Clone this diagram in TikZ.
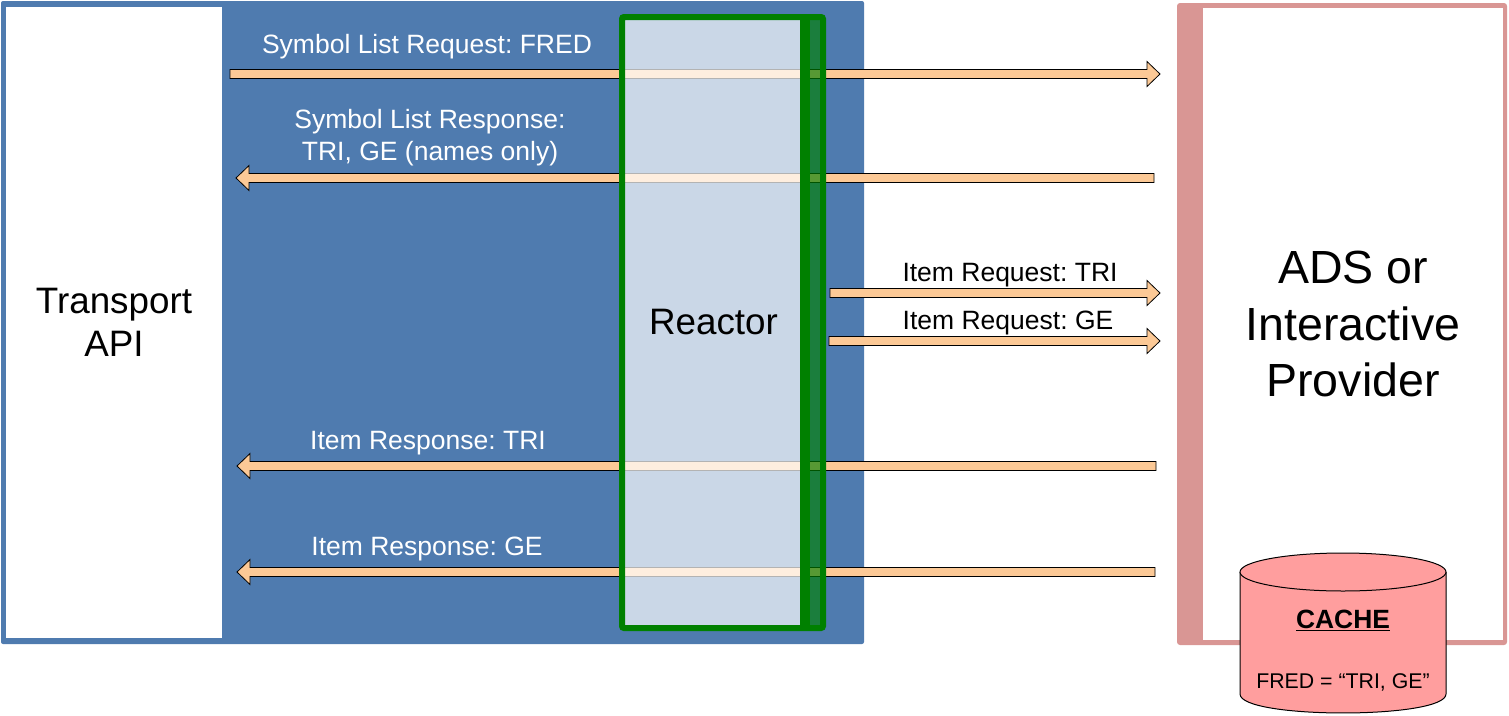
\documentclass[tikz,border=0pt]{standalone}
\usepackage{fontspec}
\setmainfont{Liberation Sans}
\usetikzlibrary{calc}
\frenchspacing
\definecolor{apiblue}{RGB}{79,123,175}
\definecolor{provpink}{RGB}{217,150,148}
\definecolor{cachepink}{RGB}{255,158,158}
\definecolor{arroworange}{RGB}{252,201,150}
\definecolor{reactgreen}{RGB}{0,128,0}
\tikzstyle{msg} = [font=\fontsize{26.5}{32}\selectfont, inner sep=0pt, anchor=base]
\tikzstyle{msgw} = [msg, text=white]
\tikzstyle{whitebox} = [rectangle, fill=white, inner sep=0pt, align=center]
\tikzstyle{big} = [font=\fontsize{36.8}{43.5}\selectfont]
\tikzstyle{blockarrow} = [draw=black, line width=0.8pt, fill=arroworange]
\newcommand{\blockarrow}[2]{%
	\path[blockarrow] let \p1=(#1), \p2=(#2), \n1={(\x2-\x1)/abs(\x2-\x1)*13} in
		(\x1,{\y1+4.5pt}) -- ({\x2-(\n1)},{\y1+4.5pt}) -- ({\x2-(\n1)},{\y1+12.5pt}) -- (\x2,\y1)
		-- ({\x2-(\n1)},{\y1-12.5pt}) -- ({\x2-(\n1)},{\y1-4.5pt}) -- (\x1,{\y1-4.5pt}) -- cycle;}

\begin{document}
\begin{tikzpicture}[x=1pt, y=-1pt]
					\useasboundingbox (0,0) rectangle (1509,715);
					\fill [apiblue, rounded corners=2pt] (1,1) rectangle (864,644);
					\node (api) [whitebox, big, minimum width=216, minimum height=631] at (114,322.5) {Transport\\API};
					\fill [provpink, rounded corners=3pt] (1177,3) rectangle (1507,645);
					\node (provider) [whitebox, font=\fontsize{46.5}{56.5}\selectfont, minimum width=300, minimum height=632] at (1353,324) {ADS or\\Interactive\\Provider};
					\coordinate (sreq1) at (230,74);
					\coordinate (sreq2) at (1160,74);
					\coordinate (sres1) at (1154,178);
					\coordinate (sres2) at (236,178);
					\coordinate (ireqt1) at (830,293);
					\coordinate (ireqt2) at (1160,293);
					\coordinate (ireqg1) at (829,341);
					\coordinate (ireqg2) at (1160,341);
					\coordinate (irest1) at (1156,466);
					\coordinate (irest2) at (237,466);
					\coordinate (iresg1) at (1155,572);
					\coordinate (iresg2) at (237,572);
					\blockarrow{sreq1}{sreq2}
					\blockarrow{sres1}{sres2}
					\blockarrow{ireqt1}{ireqt2}
					\blockarrow{ireqg1}{ireqg2}
					\blockarrow{irest1}{irest2}
					\blockarrow{iresg1}{iresg2}
					\node (reactor) [whitebox, big, fill opacity=.7, text opacity=1, minimum width=183, minimum height=611] at (713.5,322.5) {Reactor};
					\fill [reactgreen, opacity=.65] (805,17) rectangle (823,628);
					\draw [reactgreen, line width=10pt] (805,17) -- (805,628);
					\draw [reactgreen, line width=6pt, rounded corners=2pt] (622,17) rectangle (823,628);
					\node (symreq) [msgw] at (427,53.5) {Symbol List Request: FRED};
					\node (symres) [msgw, align=center, anchor=center] at (430,138) {Symbol List Response:\\TRI, GE (names only)};
					\node (ireqt) [msg] at (1010,281.5) {Item Request: TRI};
					\node (ireqg) [msg] at (1008,329.5) {Item Request: GE};
					\node (irest) [msgw] at (428,449.5) {Item Response: TRI};
					\node (iresg) [msgw] at (427,555.5) {Item Response: GE};
					\draw [fill=cachepink, line width=1pt] (1240,572) -- (1240,694) .. controls (1240,719.3) and (1446,719.3) .. (1446,694) -- (1446,572);
					\draw [fill=cachepink, line width=1pt] (1343,572) ellipse [x radius=103, y radius=19];
					\node (cache) [inner sep=0pt, font=\bfseries\fontsize{26.4}{30}\selectfont] at (1343,620) {\underline{CACHE}};
					\node (cachedata) [inner sep=0pt, font=\fontsize{21.3}{25}\selectfont] at (1343,682) {FRED = “TRI, GE”};
				\end{tikzpicture}
\end{document}
